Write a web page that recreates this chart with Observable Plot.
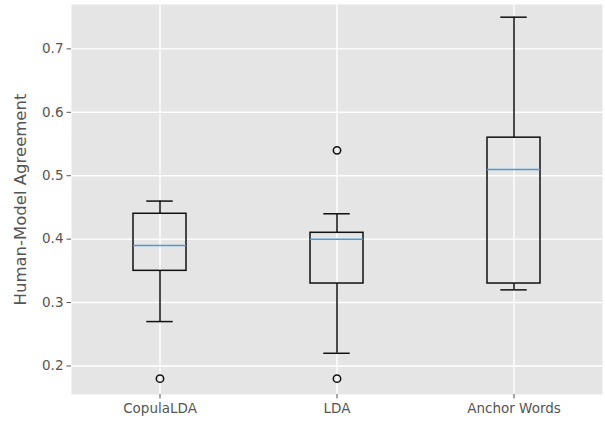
<!DOCTYPE html>
<html><head><meta charset="utf-8">
<script src="https://cdn.jsdelivr.net/npm/d3@7"></script>
<script src="https://cdn.jsdelivr.net/npm/@observablehq/plot@0.6"></script>
<style>body{margin:0;background:#fff;} svg{display:block;}</style>
</head><body><div id="chart"></div>
<script>
const categories = ["CopulaLDA", "LDA", "Anchor Words"];
const whiskerLow = [0.27, 0.22, 0.32];
const q1 = [0.35, 0.33, 0.33];
const median = [0.39, 0.40, 0.51];
const q3 = [0.44, 0.41, 0.56];
const whiskerHigh = [0.46, 0.44, 0.75];
const outlierCategories = ["CopulaLDA", "LDA", "LDA"];
const outlierValues = [0.18, 0.18, 0.54];
const yTicks = [0.2, 0.3, 0.4, 0.5, 0.6, 0.7];
const yLabel = "Human-Model Agreement";

const boxes = categories.map((c, i) => ({cat: c, lo: whiskerLow[i], q1: q1[i], med: median[i], q3: q3[i], hi: whiskerHigh[i]}));
const outliers = outlierCategories.map((c, i) => ({cat: c, v: outlierValues[i]}));

const W = 605, H = 423;
const mL = 71, mR = 3, mT = 4, mB = 29;
const bandwidth = (W - mL - mR) / 3 * 0.3;
const capInset = bandwidth / 4;
const lw = 1.5;

const chart = Plot.plot({
  width: W, height: H,
  marginLeft: mL, marginRight: mR, marginTop: mT, marginBottom: mB,
  style: {fontFamily: "DejaVu Sans", fontSize: "13.5px", color: "#555555", background: "#fff"},
  x: {type: "band", domain: categories, paddingInner: 0.7, paddingOuter: 0.35, label: null},
  y: {domain: [0.155, 0.77], ticks: yTicks, label: null},
  marks: [
    Plot.frame({fill: "#E5E5E5", stroke: null}),
    Plot.gridY(yTicks, {stroke: "#fff", strokeOpacity: 1, strokeWidth: 1.4}),
    Plot.gridX(categories, {stroke: "#fff", strokeOpacity: 1, strokeWidth: 1.4}),
    Plot.axisY(yTicks, {tickSize: 4.5, tickPadding: 3.5, tickFormat: d3.format(".1f"), stroke: "#555", fill: "#555", fontSize: 13.5,
      label: yLabel, labelAnchor: "center", labelArrow: "none", labelOffset: 57}),
    Plot.axisX(categories, {tickSize: 4.5, tickPadding: 4, stroke: "#555", fill: "#555", fontSize: 13.5, label: null}),
    Plot.ruleX(boxes, {x: "cat", y1: "lo", y2: "q1", stroke: "#111", strokeWidth: lw}),
    Plot.ruleX(boxes, {x: "cat", y1: "q3", y2: "hi", stroke: "#111", strokeWidth: lw}),
    Plot.tickY(boxes, {x: "cat", y: "lo", stroke: "#111", strokeWidth: lw, insetLeft: capInset, insetRight: capInset}),
    Plot.tickY(boxes, {x: "cat", y: "hi", stroke: "#111", strokeWidth: lw, insetLeft: capInset, insetRight: capInset}),
    Plot.barY(boxes, {x: "cat", y1: "q1", y2: "q3", fill: "none", stroke: "#111", strokeWidth: lw}),
    Plot.tickY(boxes, {x: "cat", y: "med", stroke: "#4A9AD4", strokeWidth: lw}),
    Plot.dot(outliers, {x: "cat", y: "v", r: 3.7, stroke: "#111", fill: "none", strokeWidth: lw})
  ]
});
document.getElementById("chart").appendChild(chart);
chart.querySelectorAll("g[aria-label='y-axis label'] text, g[aria-label='y-axis label']").forEach(el => el.setAttribute("font-size", "16.5"));
</script>
</body></html>
